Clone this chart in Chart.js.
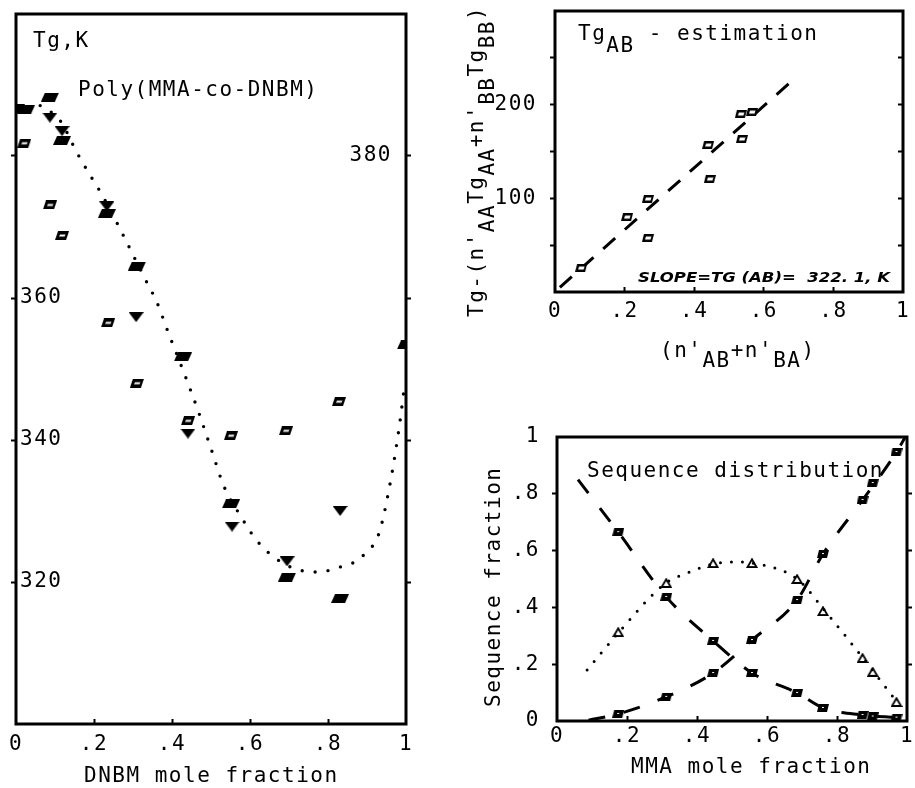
<!DOCTYPE html>
<html><head><meta charset="utf-8">
<script src="https://cdn.jsdelivr.net/npm/chart.js@4"></script>
<style>
html,body{margin:0;padding:0;background:#fff;}
#wrap{position:relative;width:915px;height:788px;overflow:hidden;background:#fff;}
canvas{position:absolute;left:0;top:0;}
</style></head><body>
<div id="wrap">
<canvas id="c1" width="915" height="788"></canvas>
<canvas id="c2" width="915" height="788"></canvas>
<canvas id="c3" width="915" height="788"></canvas>
</div>
<script>
// ---------- Panel 1: Tg vs DNBM mole fraction ----------
const tgFilledX = [0, 0.026, 0.087, 0.118, 0.233, 0.31, 0.428, 0.551, 0.695, 0.831, 1.0];
const tgFilledY = [386.7, 386.6, 388.3, 382.2, 371.9, 364.5, 351.7, 331.0, 320.7, 317.7, 353.4];
const tgOpenX = [0.021, 0.087, 0.118, 0.236, 0.31, 0.441, 0.551, 0.692, 0.828];
const tgOpenY = [381.8, 373.1, 368.8, 356.5, 348.0, 342.7, 340.6, 341.3, 345.4];
const tgTriX = [0.087, 0.118, 0.233, 0.308, 0.441, 0.554, 0.695, 0.831];
const tgTriY = [385.4, 383.5, 372.9, 357.3, 340.9, 327.8, 322.9, 330.0];
const tgFitX = [0.062, 0.113, 0.156, 0.19, 0.221, 0.279, 0.326, 0.362, 0.39, 0.436, 0.469, 0.503, 0.533, 0.577, 0.618, 0.677, 0.733, 0.779, 0.823, 0.864, 0.895, 0.931, 0.959, 0.982, 0.997];
const tgFitY = [387.1, 385.0, 380.5, 377.3, 374.5, 368.4, 363.2, 359.3, 355.2, 348.7, 343.8, 338.3, 333.5, 329.2, 325.8, 322.9, 321.6, 321.4, 322.0, 322.7, 324.0, 326.9, 333.8, 341.6, 348.0];
const tgTickLabels = {320: '320', 340: '340', 360: '360'};
const tgRightTickLabels = {380: '380'};

// ---------- Panel 2: Tg_AB estimation ----------
const abX = [0.075, 0.207, 0.267, 0.267, 0.44, 0.445, 0.534, 0.566, 0.537];
const abY = [25.6, 80.0, 99.3, 57.6, 156.9, 120.6, 190.0, 192.1, 163.3];
const abLineX = [0.014, 0.695];
const abLineY = [5, 230];
const abTickLabels = {100: '100', 200: '200'};

// ---------- Panel 3: Sequence distribution ----------
const seqX = [0.175, 0.312, 0.446, 0.557, 0.686, 0.76, 0.873, 0.902, 0.97];
const seqDecr = [0.665, 0.437, 0.282, 0.169, 0.099, 0.046, 0.021, 0.016, 0.012];
const seqIncr = [0.025, 0.085, 0.169, 0.285, 0.426, 0.588, 0.778, 0.838, 0.947];
const seqMixed = [0.313, 0.486, 0.556, 0.556, 0.5, 0.387, 0.222, 0.173, 0.067];
const decrFitX = [0.06, 0.175, 0.312, 0.446, 0.557, 0.686, 0.76, 0.873, 0.97];
const decrFitY = [0.85, 0.665, 0.437, 0.282, 0.169, 0.099, 0.046, 0.021, 0.012];
const incrFitX = [0.09, 0.175, 0.312, 0.446, 0.557, 0.686, 0.76, 0.873, 0.97, 0.995];
const incrFitY = [0.003, 0.025, 0.085, 0.169, 0.285, 0.426, 0.588, 0.778, 0.947, 1.0];
const mixFitX = [0.086, 0.177, 0.311, 0.37, 0.446, 0.5, 0.557, 0.686, 0.766, 0.874, 0.971];
const mixFitY = [0.18, 0.313, 0.486, 0.52, 0.553, 0.56, 0.556, 0.5, 0.387, 0.222, 0.067];

// ---------- helpers ----------
const FONT = "'DejaVu Sans Mono', monospace";
const LS = '1.5px';
Chart.defaults.font.family = FONT;
Chart.defaults.font.size = 21;
Chart.defaults.color = '#000';
Chart.defaults.animation = false;

const xy = (xs, ys) => xs.map((x, i) => ({x, y: ys[i]}));
const fracLabel = v => Math.abs(v) < 1e-9 ? '0' : (Math.abs(v - 1) < 1e-9 ? '1' : '.' + Math.round(v * 10));

function mk(w, h, draw) {
  const c = document.createElement('canvas'); c.width = w; c.height = h;
  const g = c.getContext('2d'); g.fillStyle = '#000'; g.strokeStyle = '#000'; draw(g); return c;
}
function poly(g, pts) { g.beginPath(); g.moveTo(pts[0][0], pts[0][1]); for (let i = 1; i < pts.length; i++) g.lineTo(pts[i][0], pts[i][1]); g.closePath(); }
const imgFilledBig = mk(18, 9, g => { poly(g, [[4,0],[18,0],[14,9],[0,9]]); g.fill(); });
const imgOpenBig = mk(14, 9, g => { poly(g, [[3,0],[14,0],[11,9],[0,9]]); g.fill(); g.fillStyle='#fff'; poly(g, [[5,3.5],[10.5,3.5],[9.5,5.5],[4,5.5]]); g.fill(); });
const imgTriDown = mk(15, 10, g => { poly(g, [[0,0],[15,0],[7.5,10]]); g.fill(); });
const imgOpenSq = mk(12, 8, g => { poly(g, [[2,0],[12,0],[10,8],[0,8]]); g.fill(); g.fillStyle='#fff'; poly(g, [[4,2.5],[9.5,2.5],[8.5,5.5],[3,5.5]]); g.fill(); });
const imgFilledSq = mk(12, 8, g => { poly(g, [[2,0],[12,0],[10,8],[0,8]]); g.fill(); g.fillStyle='#fff'; g.fillRect(5,3,2,1); });
const imgOpenTri = mk(12, 10, g => { g.lineWidth = 1.8; poly(g, [[1.5,9],[10.5,9],[6,1.2]]); g.stroke(); });

const lsPlugin = {
  id: 'ls',
  beforeUpdate(c) { c.ctx.letterSpacing = LS; },
  beforeDraw(c) { c.ctx.letterSpacing = LS; }
};
Chart.register(lsPlugin);

function deco(items) {
  return {
    id: 'deco',
    afterDatasetsDraw(chart) {
      const ctx = chart.ctx, a = chart.chartArea;
      ctx.save();
      ctx.strokeStyle = '#000'; ctx.lineWidth = 3;
      ctx.strokeRect(a.left, a.top, a.right - a.left, a.bottom - a.top);
      ctx.restore();
      for (const it of items) {
        ctx.save();
        ctx.translate(it.x, it.y);
        if (it.rot) ctx.rotate(-Math.PI / 2);
        ctx.font = it.font || ('21px ' + FONT);
        ctx.letterSpacing = it.ls !== undefined ? it.ls : LS;
        ctx.fillStyle = '#000'; ctx.textAlign = 'left'; ctx.textBaseline = 'alphabetic';
        if (it.width) {
          let tw = 0; for (const p of it.parts) tw += ctx.measureText(p[0]).width;
          ctx.scale(it.width / tw, 1);
        }
        let cx = 0;
        for (const p of it.parts) { ctx.fillText(p[0], cx, p[1]); cx += ctx.measureText(p[0]).width; }
        ctx.restore();
      }
    }
  };
}

const gridOut = { drawOnChartArea: false, tickLength: 5, tickWidth: 2, color: '#000' };
const gridIn = { drawOnChartArea: false, tickLength: -5, tickWidth: 2, color: '#000' };
const fixH = h => s => { s.height = h; s.paddingLeft = 0; s.paddingRight = 0; s.paddingTop = 0; s.paddingBottom = 0; };
const fixW = w => s => { s.width = w; s.paddingLeft = 0; s.paddingRight = 0; s.paddingTop = 0; s.paddingBottom = 0; };

// ---------- Chart 1 ----------
const edgeHide = (lo, hi) => (c) => (c.tick && (c.tick.value === lo || c.tick.value === hi)) ? 'rgba(0,0,0,0)' : '#000';
new Chart(document.getElementById('c1'), {
  type: 'scatter',
  data: { datasets: [
    { data: xy(tgFilledX, tgFilledY), pointStyle: imgFilledBig, pointRadius: 8 },
    { data: xy(tgOpenX, tgOpenY), pointStyle: imgOpenBig, pointRadius: 6 },
    { data: xy(tgTriX, tgTriY), pointStyle: imgTriDown, pointRadius: 7 },
    { type: 'line', data: xy(tgFitX, tgFitY), borderColor: '#000', borderWidth: 3.4, borderDash: [0, 13], borderCapStyle: 'round', pointRadius: 0, fill: false, cubicInterpolationMode: 'monotone' }
  ]},
  options: {
    responsive: false, animation: false, events: [],
    layout: { padding: { left: 0, top: 14, right: 495, bottom: 0 } },
    plugins: { legend: { display: false }, tooltip: { enabled: false } },
    scales: {
      x: { type: 'linear', min: 0, max: 1, position: 'bottom',
           ticks: { stepSize: 0.2, padding: 13, maxRotation: 0, autoSkip: false, callback: fracLabel },
           grid: { ...gridIn, color: edgeHide(0, 1) }, border: { display: false },
           afterFit: fixH(64) },
      y: { type: 'linear', min: 300, max: 400, position: 'left',
           ticks: { stepSize: 20, mirror: true, padding: 4, callback: v => tgTickLabels[v] || '' },
           grid: { ...gridOut, color: edgeHide(300, 400) }, border: { display: false },
           afterFit: fixW(16) },
      y2: { type: 'linear', min: 300, max: 400, position: 'right',
           ticks: { stepSize: 20, mirror: true, padding: -14, callback: v => tgRightTickLabels[v] || '' },
           grid: { ...gridOut, color: edgeHide(300, 400) }, border: { display: false },
           afterFit: fixW(14) }
    }
  },
  plugins: [deco([
    { x: 33, y: 47, parts: [['Tg,K', 0]] },
    { x: 78, y: 96, parts: [['Poly(MMA-co-DNBM)', 0]] },
    { x: 84, y: 782, parts: [['DNBM mole fraction', 0]] }
  ])]
});

// ---------- Chart 2 ----------
new Chart(document.getElementById('c2'), {
  type: 'scatter',
  data: { datasets: [
    { data: xy(abX, abY), pointStyle: imgOpenSq, pointRadius: 6 },
    { type: 'line', data: xy(abLineX, abLineY), borderColor: '#000', borderWidth: 3, borderDash: [16, 13], pointRadius: 0, fill: false }
  ]},
  options: {
    responsive: false, animation: false, events: [],
    layout: { padding: { left: 495, top: 11, right: 7, bottom: 456 } },
    plugins: { legend: { display: false }, tooltip: { enabled: false } },
    scales: {
      x: { type: 'linear', min: 0, max: 1, position: 'bottom',
           ticks: { stepSize: 0.2, padding: 12, maxRotation: 0, autoSkip: false, callback: fracLabel },
           grid: { ...gridIn, color: edgeHide(0, 1) }, border: { display: false },
           afterFit: fixH(40) },
      y: { type: 'linear', min: 0, max: 300, position: 'left',
           ticks: { stepSize: 50, padding: 13, callback: v => abTickLabels[v] || '' },
           grid: { ...gridOut, color: edgeHide(0, 300) }, border: { display: false },
           afterFit: fixW(60) },
      y2: { type: 'linear', min: 0, max: 300, position: 'right',
           ticks: { stepSize: 50, callback: () => '' },
           grid: { ...gridIn, color: edgeHide(0, 300) }, border: { display: false },
           afterFit: fixW(5) }
    }
  },
  plugins: [deco([
    { x: 578, y: 40, parts: [['Tg', 0], ['AB', 12], [' - estimation', 0]] },
    { x: 483, y: 317, rot: true, parts: [["Tg-(n'", 0], ['AA', 11], ['Tg', 0], ['AA', 11], ["+n'", 0], ['BB', 11], ['Tg', 0], ['BB', 11], [')', 0]] },
    { x: 660, y: 357, parts: [["(n'", 0], ['AB', 10], ["+n'", 0], ['BA', 10], [')', 0]] },
    { x: 638, y: 282, width: 252, ls: '0px', font: 'italic bold 14px "DejaVu Sans", sans-serif', parts: [['SLOPE=TG (AB)=  322. 1, K', 0]] }
  ])]
});

// ---------- Chart 3 ----------
new Chart(document.getElementById('c3'), {
  type: 'scatter',
  data: { datasets: [
    { data: xy(seqX, seqDecr), pointStyle: imgFilledSq, pointRadius: 6 },
    { data: xy(seqX, seqIncr), pointStyle: imgFilledSq, pointRadius: 6 },
    { data: xy(seqX, seqMixed), pointStyle: imgOpenTri, pointRadius: 6 },
    { type: 'line', data: xy(decrFitX, decrFitY), borderColor: '#000', borderWidth: 3, borderDash: [17, 19], pointRadius: 0, fill: false, cubicInterpolationMode: 'monotone' },
    { type: 'line', data: xy(incrFitX, incrFitY), borderColor: '#000', borderWidth: 3, borderDash: [17, 19], pointRadius: 0, fill: false, cubicInterpolationMode: 'monotone' },
    { type: 'line', data: xy(mixFitX, mixFitY), borderColor: '#000', borderWidth: 3, borderDash: [0, 11], borderCapStyle: 'round', pointRadius: 0, fill: false, cubicInterpolationMode: 'monotone' }
  ]},
  options: {
    responsive: false, animation: false, events: [],
    layout: { padding: { left: 497, top: 437, right: 3, bottom: 17 } },
    plugins: { legend: { display: false }, tooltip: { enabled: false } },
    scales: {
      x: { type: 'linear', min: 0, max: 1, position: 'bottom',
           ticks: { stepSize: 0.2, padding: 8, maxRotation: 0, autoSkip: false, callback: fracLabel },
           grid: { ...gridIn, color: edgeHide(0, 1) }, border: { display: false },
           afterFit: fixH(50) },
      y: { type: 'linear', min: 0, max: 1, position: 'left',
           ticks: { stepSize: 0.2, padding: 12, callback: fracLabel },
           grid: { ...gridOut, color: edgeHide(0, 1) }, border: { display: false },
           afterFit: fixW(60) },
      y2: { type: 'linear', min: 0, max: 1, position: 'right',
           ticks: { stepSize: 0.2, callback: () => '' },
           grid: { ...gridOut, color: edgeHide(0, 1) }, border: { display: false },
           afterFit: fixW(5) }
    }
  },
  plugins: [deco([
    { x: 587, y: 477, parts: [['Sequence distribution', 0]] },
    { x: 500, y: 707, rot: true, parts: [['Sequence fraction', 0]] },
    { x: 631, y: 773, parts: [['MMA mole fraction', 0]] }
  ])]
});
</script>
</body></html>
